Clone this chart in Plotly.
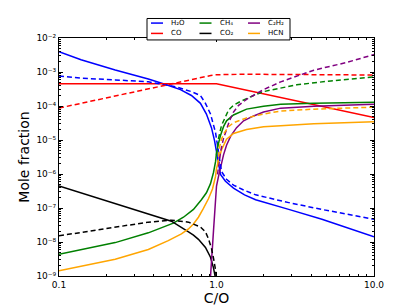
import plotly.graph_objects as go

# ---- data: C/O ratio vs mole fraction (solid and dashed cases) ----
h2o_x = [0.1, 0.138, 0.2275, 0.369, 0.481, 0.590, 0.693, 0.791, 0.863, 0.929, 0.971, 1.0, 1.030, 1.060, 1.140, 1.282, 1.507, 1.771, 2.874, 4.67, 10]
h2o_y = [3.97e-3, 2.3e-3, 1.15e-3, 6.26e-4, 4.21e-4, 3.03e-4, 2.04e-4, 1.20e-4, 5.8e-5, 2.31e-5, 9.8e-6, 4.16e-6, 1.88e-6, 9.7e-7, 6.1e-7, 3.86e-7, 2.44e-7, 1.75e-7, 9.1e-8, 4.68e-8, 1.43e-8]
h2o_dx = [0.1, 0.138, 0.2275, 0.369, 0.548, 0.693, 0.791, 0.851, 0.916, 0.957, 0.986, 1.030, 1.075, 1.158, 1.282, 1.486, 1.771, 2.874, 4.67, 10]
h2o_dy = [7.64e-4, 6.6e-4, 5.86e-4, 5.14e-4, 3.69e-4, 2.65e-4, 2.04e-4, 1.2e-4, 5.82e-5, 3.01e-5, 1.66e-5, 4.44e-6, 1.19e-6, 7.0e-7, 4.71e-7, 3.39e-7, 2.44e-7, 1.44e-7, 9.06e-8, 4.68e-8]

co_x = [0.1, 1.0, 10]
co_y = [4.5e-4, 4.5e-4, 4.6e-5]
co_dx = [0.1, 0.205, 0.428, 0.664, 0.826, 0.92, 1.0, 1.2, 1.5, 10]
co_dy = [8.7e-5, 1.79e-4, 3.69e-4, 5.86e-4, 7.2e-4, 7.9e-4, 8.3e-4, 8.6e-4, 8.6e-4, 8.15e-4]

ch4_x = [0.1, 0.2275, 0.369, 0.428, 0.532, 0.617, 0.714, 0.802, 0.863, 0.916, 0.957, 0.986, 1.0, 1.030, 1.060, 1.108, 1.158, 1.282, 1.552, 1.99, 2.556, 4.148, 10]
ch4_y = [4.36e-9, 9.6e-9, 1.86e-8, 2.42e-8, 3.6e-8, 5.35e-8, 9.06e-8, 1.75e-7, 2.8e-7, 5.2e-7, 1.11e-6, 2.3e-6, 4.16e-6, 8.04e-6, 1.36e-5, 2.47e-5, 3.67e-5, 5.44e-5, 8.09e-5, 9.86e-5, 1.13e-4, 1.2e-4, 1.28e-4]
ch4_dx = [1.0, 1.030, 1.075, 1.14, 1.192, 1.282, 1.422, 1.721, 1.99, 3.233, 5.32, 10]
ch4_dy = [3.65e-6, 1.12e-5, 2.64e-5, 5.1e-5, 7.58e-5, 1.05e-4, 1.37e-4, 2.04e-4, 2.65e-4, 4.21e-4, 5.48e-4, 7.14e-4]

co2_x = [0.1, 0.2275, 0.369, 0.517, 0.664, 0.714, 0.768, 0.851, 0.916, 0.957, 0.986, 1.0]
co2_y = [4.42e-7, 1.35e-7, 6.95e-8, 4.1e-8, 1.99e-8, 1.6e-8, 1.2e-8, 6.9e-9, 3.57e-9, 1.73e-9, 8.4e-10, 4e-10]
co2_dx = [0.1, 0.2275, 0.369, 0.517, 0.664, 0.791, 0.851, 0.889, 0.929, 0.957, 0.986, 1.0]
co2_dy = [1.52e-8, 2.76e-8, 3.84e-8, 4.38e-8, 3.84e-8, 2.76e-8, 1.99e-8, 1.25e-8, 6.47e-9, 3.34e-9, 1.52e-9, 6.9e-10]

c2h2_x = [0.902, 0.916, 0.957, 1.0, 1.03, 1.06, 1.108, 1.158, 1.228, 1.341, 1.486, 1.721, 1.99, 2.556, 4.148, 10]
c2h2_y = [4.9e-10, 9.5e-10, 2.12e-8, 4.42e-7, 8.5e-7, 1.54e-6, 3.65e-6, 7.05e-6, 1.28e-5, 2.31e-5, 3.67e-5, 5.1e-5, 6.64e-5, 8.65e-5, 9.86e-5, 1.13e-4]
c2h2_dx = [1.015, 1.06, 1.108, 1.158, 1.21, 1.282, 1.381, 1.552, 1.99, 2.556, 4.148, 6.73, 10]
c2h2_dy = [9.7e-7, 4.44e-6, 1.12e-5, 2.03e-5, 3.67e-5, 6.64e-5, 1.05e-4, 1.57e-4, 3.03e-4, 5.14e-4, 1.13e-3, 1.92e-3, 3.26e-3]

hcn_x = [0.1, 0.153, 0.2275, 0.369, 0.494, 0.599, 0.664, 0.714, 0.768, 0.826, 0.889, 0.943, 0.986, 1.0, 1.03, 1.075, 1.158, 1.282, 1.552, 1.99, 2.556, 4.148, 10]
hcn_y = [1.42e-9, 2.11e-9, 3.13e-9, 6.05e-9, 1.1e-8, 1.74e-8, 2.42e-8, 3.37e-8, 5.35e-8, 9.7e-8, 1.87e-7, 3.62e-7, 8.5e-7, 1.45e-6, 2.3e-6, 5.07e-6, 1.05e-5, 1.56e-5, 2.03e-5, 2.47e-5, 2.64e-5, 3.01e-5, 3.44e-5]
hcn_dx = [1.015, 1.045, 1.075, 1.124, 1.192, 1.282, 1.552, 1.99, 2.556, 4.148, 10]
hcn_dy = [1.88e-6, 6.18e-6, 1.05e-5, 1.66e-5, 2.47e-5, 3.21e-5, 4.47e-5, 5.82e-5, 7.1e-5, 8.09e-5, 9.24e-5]

species = ["H₂O", "CO", "CH₄", "CO₂", "C₂H₂", "HCN"]
y_tickvals = [1e-9, 1e-8, 1e-7, 1e-6, 1e-5, 1e-4, 1e-3, 1e-2]
y_ticktext = ["10⁻⁹", "10⁻⁸", "10⁻⁷", "10⁻⁶", "10⁻⁵", "10⁻⁴", "10⁻³", "10⁻²"]
x_tickvals = [0.1, 1.0, 10.0]
x_ticktext = ["0.1", "1.0", "10.0"]

# ---- style ----
BLUE, RED, GREEN, BLACK, PURPLE, ORANGE = "#0000ff", "#ff0000", "#008000", "#000000", "#800080", "#ffa500"
colors = [BLUE, RED, GREEN, BLACK, PURPLE, ORANGE]
LW = 1.5
W, H = 407, 305
ML, MR, MT, MB = 51, 41, 30, 31
PW, PH = W - ML - MR, H - MT - MB

solid = [(h2o_x, h2o_y), (co_x, co_y), (ch4_x, ch4_y), (co2_x, co2_y), (c2h2_x, c2h2_y), (hcn_x, hcn_y)]
dashed = [(h2o_dx, h2o_dy), (co_dx, co_dy), (ch4_dx, ch4_dy), (co2_dx, co2_dy), (c2h2_dx, c2h2_dy), (hcn_dx, hcn_dy)]

fig = go.Figure()
for (x, y), c, n in zip(solid, colors, species):
    fig.add_trace(go.Scatter(x=x, y=y, mode="lines", name=n, showlegend=False,
                             line=dict(color=c, width=LW)))
for (x, y), c, n in zip(dashed, colors, species):
    fig.add_trace(go.Scatter(x=x, y=y, mode="lines", name=n + " (dashed)", showlegend=False,
                             line=dict(color=c, width=LW, dash="5px,3px")))

# ---- legend box drawn in paper coordinates (3 columns x 2 rows) ----
def px(xp):
    return (xp - ML) / PW

def py(yp):
    return (H - MB - yp) / PH

shapes = [dict(type="rect", xref="paper", yref="paper", layer="above",
               x0=px(139), x1=px(282), y0=py(32), y1=py(10),
               line=dict(color="black", width=1), fillcolor="white")]
annotations = []
col_x = [143, 191.5, 240]
row_y = [14.7, 25.3]
for i, (name, c) in enumerate(zip(species, colors)):
    col, row = i // 2, i % 2
    x0 = col_x[col]
    yy = row_y[row]
    shapes.append(dict(type="line", xref="paper", yref="paper", layer="above",
                       x0=px(x0), x1=px(x0 + 12), y0=py(yy), y1=py(yy),
                       line=dict(color=c, width=LW)))
    annotations.append(dict(text=name, xref="paper", yref="paper", showarrow=False,
                            x=px(x0 + 18), y=py(yy), xanchor="left", yanchor="middle",
                            font=dict(family="DejaVu Sans", size=7, color="black")))

axis_common = dict(
    type="log", showgrid=False, zeroline=False,
    showline=True, linecolor="black", linewidth=1, mirror="ticks",
    ticks="inside", ticklen=4, tickwidth=1, tickcolor="black",
    tickfont=dict(family="DejaVu Sans", size=9, color="black"),
)
y_minor = [m * 10.0 ** e for e in range(-9, -2) for m in range(2, 10)]
x_minor = [m * 10.0 ** e for e in range(-1, 1) for m in range(2, 10)]

fig.update_layout(
    width=W, height=H,
    margin=dict(l=ML, r=MR, t=MT, b=MB),
    paper_bgcolor="white", plot_bgcolor="white",
    font=dict(family="DejaVu Sans", color="black"),
    showlegend=False,
    shapes=shapes, annotations=annotations,
    xaxis=dict(
        **axis_common, range=[-1, 1],
        tickvals=x_tickvals, ticktext=x_ticktext,
        minor=dict(tickvals=x_minor, ticks="inside", ticklen=2, tickcolor="black", showgrid=False),
        title=dict(text="C/O", font=dict(size=14), standoff=1),
    ),
    yaxis=dict(
        **axis_common, range=[-9, -2],
        tickvals=y_tickvals, ticktext=y_ticktext,
        minor=dict(tickvals=y_minor, ticks="inside", ticklen=2, tickcolor="black", showgrid=False),
        title=dict(text="Mole fraction", font=dict(size=14), standoff=3),
    ),
)

fig.write_html("out.html")
